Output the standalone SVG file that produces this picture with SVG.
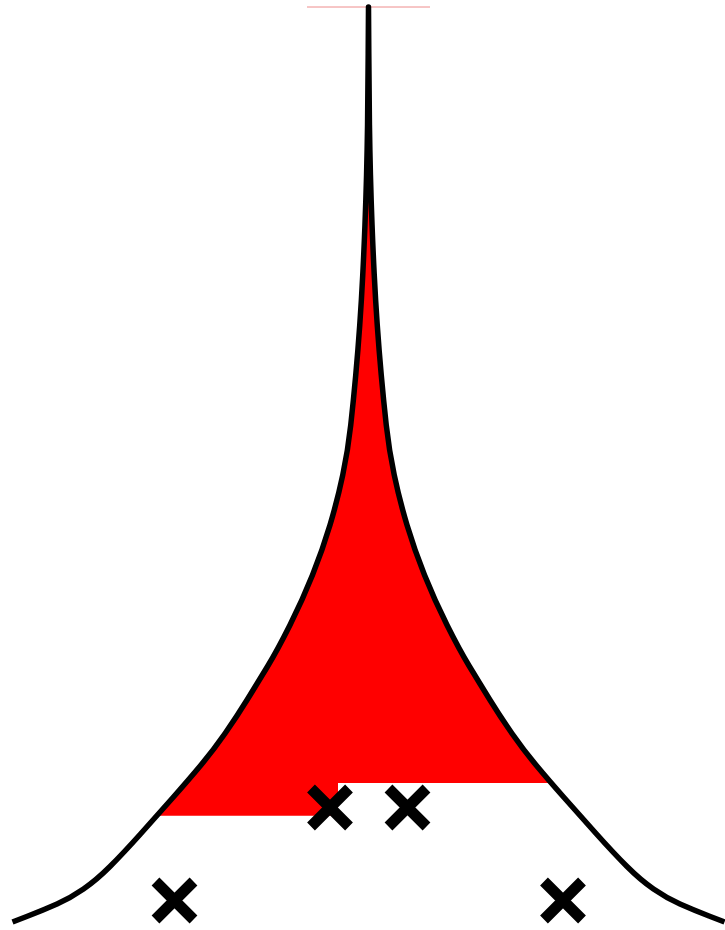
<svg xmlns="http://www.w3.org/2000/svg" width="725" height="930" viewBox="0 0 725 930">
<style>
.curve{fill:none;stroke:#000;stroke-width:5.5;stroke-linejoin:round}
.area{fill:#ff0000;stroke:none}
.mark{stroke:#000;stroke-width:11;stroke-linecap:butt;fill:none}
</style>
<defs>
<clipPath id="areaClip">
<rect x="0" y="0" width="338" height="815.7"/>
<rect x="338" y="0" width="387" height="783"/>
</clipPath>
<path id="shape" d="M12.5,922 L28,916 Q43.5,910 57,904 Q70.5,898 83.5,889 Q96.5,880 110,866.5 Q123.5,853 140.5,834 Q157.5,815 173,797.5 Q188.5,780 201,765 Q213.5,750 225,733.5 Q236.5,717 247,700 Q257.5,683 267.5,666.5 Q277.5,650 290,625 Q302.5,600 312.5,575 Q322.5,550 330,525 Q337.5,500 342.75,475 Q348,450 350.75,425 Q353.5,400 355.75,375 Q358,350 359.75,325 Q361.5,300 362.75,275 Q364,250 364.95,225 Q365.9,200 366.55,175 Q367.2,150 367.55,125 Q367.9,100 368.2,53.5 L368.5,7 L368.8,53.5 Q369.1,100 369.45,125 Q369.8,150 370.45,175 Q371.1,200 372.05,225 Q373,250 374.25,275 Q375.5,300 377.25,325 Q379,350 381.25,375 Q383.5,400 386.25,425 Q389,450 394.25,475 Q399.5,500 407,525 Q414.5,550 424.5,575 Q434.5,600 447,625 Q459.5,650 469.5,666.5 Q479.5,683 490,700 Q500.5,717 512,733.5 Q523.5,750 536,765 Q548.5,780 564,797.5 Q579.5,815 596.5,834 Q613.5,853 627,866.5 Q640.5,880 653.5,889 Q666.5,898 680,904 Q693.5,910 709,916 L724.5,922"/>
<g id="xm"><path class="mark" d="M-19,-19 L19,19 M-19,19 L19,-19"/></g>
</defs>
<rect width="725" height="930" fill="#fff"/>
<line x1="307" y1="7" x2="430" y2="7" stroke="#ee8c8c" stroke-width="1"/>
<g id="fill">
<use href="#shape" class="area" clip-path="url(#areaClip)"/>
</g>
<g id="connectors">
<use href="#shape" class="curve"/>
</g>
<g id="marks">
<use href="#xm" x="330" y="807.5"/>
<use href="#xm" x="407.5" y="807.5"/>
<use href="#xm" x="174.5" y="900.5"/>
<use href="#xm" x="563" y="900.5"/>
</g>
</svg>
